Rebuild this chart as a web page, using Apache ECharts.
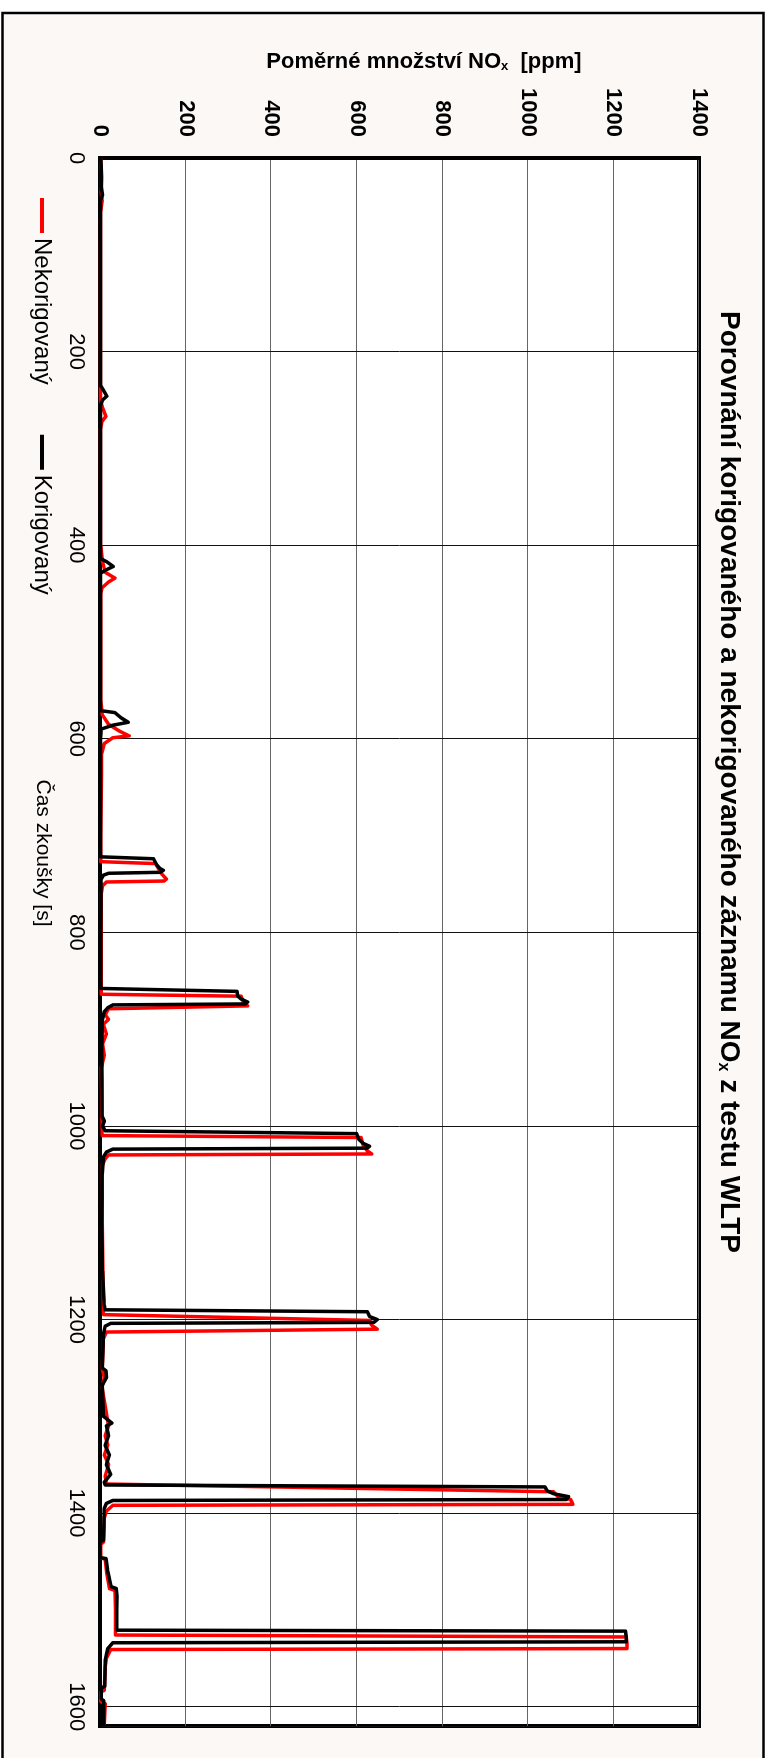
<!DOCTYPE html>
<html>
<head>
<meta charset="utf-8">
<script src="https://cdn.jsdelivr.net/npm/echarts@6/dist/echarts.min.js"></script>
<style>
  html, body { margin: 0; padding: 0; background: #fff; width: 767px; height: 1758px; overflow: hidden; }
  /* The chart is laid out landscape and turned a quarter clockwise onto the portrait page */
  #chart { position: absolute; left: 0; top: 0; width: 1758px; height: 767px;
           transform-origin: 0 0; transform: translate(767px, 0) rotate(90deg); }
</style>
</head>
<body>
<div id="chart"></div>
<script>
// Axis ranges
const timeMax = 1620;   // s
const timeStep = 200;
const ppmMax = 1400;    // ppm
const ppmStep = 200;

const seriesNames = ['Nekorigovaný', 'Korigovaný'];

// NOx trace without correction: [time s, ppm]
const nekorigovany = [
  [0,2],[20,4],[36,3],[45,5],[55,2],[100,1],[250,1],[258,6],[267,14],[272,5],[280,1],
  [400,2],[415,5],[428,12],[434,35],[438,20],[444,5],[450,2],
  [560,2],[575,5],[585,20],[592,45],[597,68],[599,30],[605,10],[615,4],[700,2],
  [727,2],[729,130],[735,138],[740,145],[745,155],[747,150],[748,15],[752,6],[760,3],
  [864,3],[866,330],[872,335],[876,345],[878,348],[879,20],[885,12],[890,20],[895,8],[905,15],[915,6],[927,10],[940,3],
  [1010,5],[1012,610],[1020,615],[1026,625],[1029,635],[1030,20],[1034,12],[1040,6],[1100,5],
  [1195,8],[1201,630],[1206,635],[1210,648],[1212,645],[1213,15],[1220,8],[1250,5],[1260,10],[1270,5],
  [1310,20],[1320,12],[1330,18],[1340,10],[1350,20],[1362,12],[1370,15],
  [1378,1060],[1383,1070],[1386,1100],[1391,1105],[1392,30],[1398,15],[1405,10],[1430,8],[1432,2],[1446,2],
  [1448,12],[1462,16],[1478,22],[1480,35],[1500,36],[1526,36],
  [1528,1230],[1535,1232],[1540,1232],[1541,25],[1550,15],[1560,12],[1583,10],[1585,2],[1595,2],[1597,12],[1619,10]
];

// NOx trace with correction: [time s, ppm]
const korigovany = [
  [0,2],[10,3],[30,3],[38,6],[43,2],[60,1],[100,1],[200,1],[235,1],[240,8],[246,16],[250,6],[256,1],[300,1],
  [400,1],[414,2],[417,15],[422,31],[426,12],[429,2],[440,1],[500,1],
  [560,1],[571,2],[573,35],[578,48],[583,66],[586,30],[590,3],[600,1],[700,1],
  [722,1],[724,125],[730,132],[734,140],[736,148],[738,140],[739,20],[741,8],[745,3],[800,2],
  [858,2],[861,320],[866,322],[869,330],[872,345],[874,340],[875,30],[878,18],[882,10],[890,6],[920,4],
  [990,5],[995,10],[1000,6],[1005,12],[1007,8],[1008,600],[1014,605],[1018,615],[1021,630],[1023,625],[1024,30],[1027,15],[1032,8],[1050,5],
  [1100,4],[1150,6],[1185,10],[1190,12],[1192,625],[1197,630],[1200,648],[1203,640],[1204,25],[1207,12],[1215,8],
  [1250,5],[1253,14],[1260,15],[1268,5],[1300,8],[1307,28],[1310,15],[1320,20],[1330,12],[1340,22],[1350,15],[1360,25],[1368,10],
  [1371,12],[1373,1040],[1377,1045],[1380,1060],[1383,1095],[1386,1090],[1387,30],[1390,15],[1395,10],[1420,9],[1428,8],[1430,0],[1446,0],
  [1447,14],[1460,18],[1476,26],[1478,38],[1486,40],[1500,39],[1521,40],
  [1522,1228],[1528,1230],[1533,1230],[1534,30],[1540,18],[1552,12],[1579,11],[1581,3],[1592,3],[1594,9],[1619,9]
];

const FONT = '"Liberation Sans", Arial, Helvetica, sans-serif';
const plain = v => String(v);

const chart = echarts.init(document.getElementById('chart'), null, { width: 1758, height: 767 });

chart.setOption({
  animation: false,
  backgroundColor: 'transparent',
  graphic: [
    { // chart frame
      type: 'rect', z: -100, silent: true,
      shape: { x: 13, y: 3.5, width: 1800, height: 761 },
      style: { fill: '#fcf8f6', stroke: '#000', lineWidth: 2.5 }
    },
    { // title
      type: 'text', z: 100, silent: true, x: 782, y: 38,
      style: {
        text: 'Porovnání korigovaného a nekorigovaného záznamu NO{s|x} z testu WLTP',
        fontSize: 28, fontWeight: 'bold', fontFamily: FONT, fill: '#000',
        align: 'center', verticalAlign: 'middle', textAlign: 'center', textVerticalAlign: 'middle',
        rich: { s: { fontSize: 16, fontWeight: 'bold', fontFamily: FONT, fill: '#000', verticalAlign: 'bottom' } }
      }
    },
    { // value axis name
      type: 'text', z: 100, silent: true, x: 62, y: 343, rotation: Math.PI / 2,
      style: {
        text: 'Poměrné množství NO{s|x}  [ppm]',
        fontSize: 22, fontWeight: 'bold', fontFamily: FONT, fill: '#000',
        align: 'center', verticalAlign: 'middle', textAlign: 'center', textVerticalAlign: 'middle',
        rich: { s: { fontSize: 13, fontWeight: 'bold', fontFamily: FONT, fill: '#000', verticalAlign: 'bottom' } }
      }
    },
    { // time axis name
      type: 'text', z: 100, silent: true, x: 853, y: 724,
      style: {
        text: 'Čas zkoušky [s]',
        fontSize: 21, fontFamily: FONT, fill: '#000',
        align: 'center', verticalAlign: 'middle', textAlign: 'center', textVerticalAlign: 'middle'
      }
    }
  ],
  legend: {
    data: seriesNames,
    left: 198, top: 713, padding: 0,
    itemGap: 50, itemWidth: 35, itemHeight: 4,
    icon: 'rect',
    textStyle: { fontSize: 24, fontFamily: FONT, color: '#000', padding: [0, 0, 0, 0] }
  },
  grid: {
    left: 158, right: 32, top: 68, bottom: 100,
    show: true, backgroundColor: '#fff', borderColor: '#000', borderWidth: 4
  },
  xAxis: {
    type: 'value', min: 0, max: timeMax, interval: timeStep,
    axisLine: { show: true, onZero: false, lineStyle: { color: '#000', width: 4 } },
    axisTick: { show: false },
    axisLabel: { showMaxLabel: false, margin: 13, fontSize: 22, fontFamily: FONT, color: '#000', formatter: plain },
    splitLine: { show: true, lineStyle: { color: '#111', width: 1 } }
  },
  yAxis: {
    type: 'value', min: 0, max: ppmMax, interval: ppmStep,
    axisLine: { show: true, onZero: false, lineStyle: { color: '#000', width: 4 } },
    axisTick: { show: false },
    axisLabel: { margin: 21, fontSize: 22, fontWeight: 'bold', fontFamily: FONT, color: '#000', formatter: plain },
    splitLine: { show: true, lineStyle: { color: '#666', width: 1 } }
  },
  series: [
    {
      name: seriesNames[0], type: 'line', data: nekorigovany, showSymbol: false, symbol: 'none',
      color: '#ff0000', lineStyle: { color: '#ff0000', width: 3.5, join: 'round' }, z: 3
    },
    {
      name: seriesNames[1], type: 'line', data: korigovany, showSymbol: false, symbol: 'none',
      color: '#000000', lineStyle: { color: '#000000', width: 3.5, join: 'round' }, z: 4
    }
  ]
});
</script>
</body>
</html>
